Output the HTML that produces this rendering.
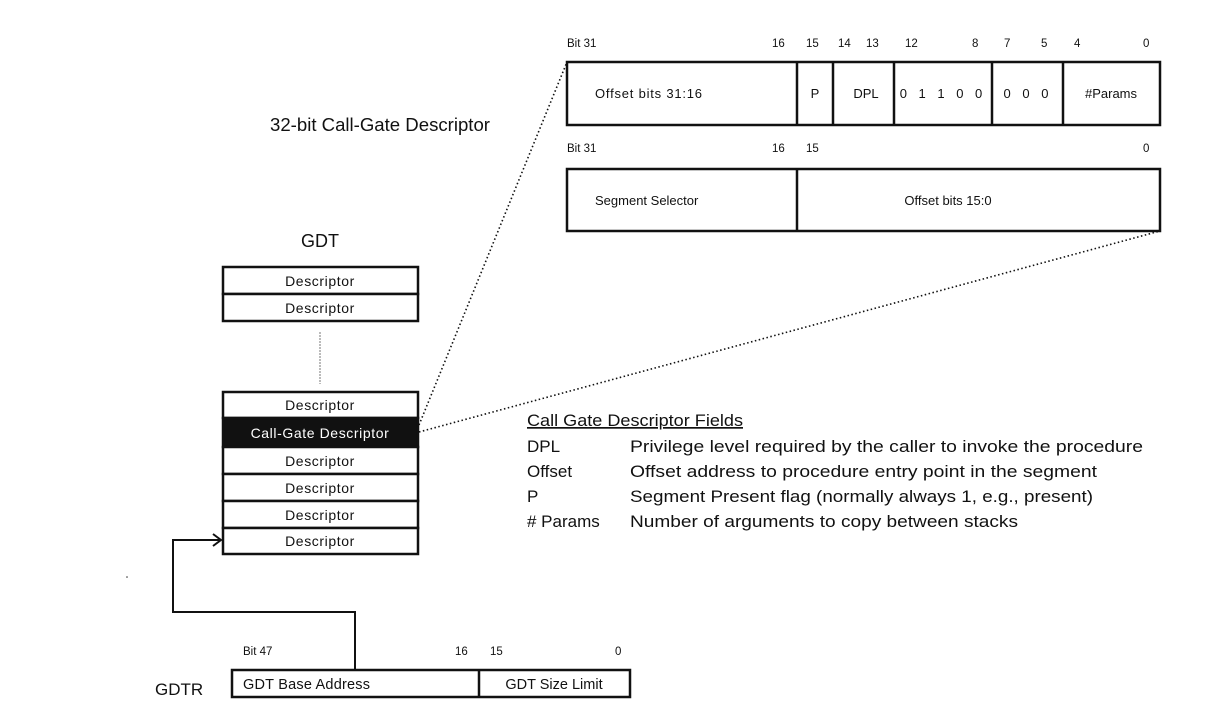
<!DOCTYPE html>
<html><head><meta charset="utf-8"><style>
html,body{margin:0;padding:0;background:#fff;}
svg{display:block;}
text{font-family:"Liberation Sans",sans-serif;fill:#111;}
</style></head><body>
<svg width="1215" height="710" viewBox="0 0 1215 710" xmlns="http://www.w3.org/2000/svg">
<g font-size="11.5">
<text x="567" y="47">Bit 31</text>
<text x="772" y="47">16</text>
<text x="806" y="47">15</text>
<text x="838" y="47">14</text>
<text x="866" y="47">13</text>
<text x="905" y="47">12</text>
<text x="972" y="47">8</text>
<text x="1004" y="47">7</text>
<text x="1041" y="47">5</text>
<text x="1074" y="47">4</text>
<text x="1143" y="47">0</text>
</g>
<rect x="567" y="62" width="593" height="63" fill="#fff" stroke="#111" stroke-width="2.5"/>
<g stroke="#111" stroke-width="2.5">
<line x1="797" y1="62" x2="797" y2="125"/>
<line x1="833" y1="62" x2="833" y2="125"/>
<line x1="894" y1="62" x2="894" y2="125"/>
<line x1="992" y1="62" x2="992" y2="125"/>
<line x1="1063" y1="62" x2="1063" y2="125"/>
</g>
<g font-size="13">
<text x="595" y="98" textLength="107" lengthAdjust="spacing">Offset bits 31:16</text>
<text x="815" y="98" text-anchor="middle">P</text>
<text x="866" y="98" text-anchor="middle">DPL</text>
<text x="943" y="98" text-anchor="middle" letter-spacing="4">0 1 1 0 0</text>
<text x="1028" y="98" text-anchor="middle" letter-spacing="4">0 0 0</text>
<text x="1111" y="98" text-anchor="middle">#Params</text>
</g>
<g font-size="11.5">
<text x="567" y="152">Bit 31</text>
<text x="772" y="152">16</text>
<text x="806" y="152">15</text>
<text x="1143" y="152">0</text>
</g>
<rect x="567" y="169" width="593" height="62" fill="#fff" stroke="#111" stroke-width="2.5"/>
<line x1="797" y1="169" x2="797" y2="231" stroke="#111" stroke-width="2.5"/>
<g font-size="13">
<text x="595" y="205">Segment Selector</text>
<text x="948" y="205" text-anchor="middle">Offset bits 15:0</text>
</g>
<text x="270" y="131" font-size="18" textLength="220" lengthAdjust="spacingAndGlyphs">32-bit Call-Gate Descriptor</text>
<text x="320" y="247" font-size="18" text-anchor="middle">GDT</text>
<g fill="#fff" stroke="#111" stroke-width="2.5">
<rect x="223" y="267" width="195" height="27"/>
<rect x="223" y="294" width="195" height="27"/>
<rect x="223" y="392" width="195" height="26"/>
<rect x="223" y="418" width="195" height="29" fill="#111"/>
<rect x="223" y="447" width="195" height="27"/>
<rect x="223" y="474" width="195" height="27"/>
<rect x="223" y="501" width="195" height="27"/>
<rect x="223" y="528" width="195" height="26"/>
</g>
<line x1="320" y1="332" x2="320" y2="384" stroke="#777" stroke-width="1" stroke-dasharray="2,1"/>
<g font-size="14" text-anchor="middle" letter-spacing="0.6">
<text x="320" y="286">Descriptor</text>
<text x="320" y="313">Descriptor</text>
<text x="320" y="410">Descriptor</text>
<text x="320" y="438" style="fill:#fff">Call-Gate Descriptor</text>
<text x="320" y="466">Descriptor</text>
<text x="320" y="493">Descriptor</text>
<text x="320" y="520">Descriptor</text>
<text x="320" y="546">Descriptor</text>
</g>
<g stroke="#111" stroke-width="1.6" stroke-dasharray="1.5,2.5" fill="none">
<line x1="419" y1="425" x2="567" y2="62"/>
<line x1="419" y1="432" x2="1160" y2="231"/>
</g>
<g stroke="#111" stroke-width="2" fill="none">
<polyline points="355,670 355,612 173,612 173,540 221,540"/>
<polyline points="213,534 221,540 213,546"/>
</g>
<circle cx="127" cy="577" r="0.8" fill="#333"/>
<g font-size="11.5">
<text x="243" y="655">Bit 47</text>
<text x="455" y="655">16</text>
<text x="490" y="655">15</text>
<text x="615" y="655">0</text>
</g>
<text x="155" y="695" font-size="17">GDTR</text>
<rect x="232" y="670" width="398" height="27" fill="#fff" stroke="#111" stroke-width="2.5"/>
<line x1="479" y1="670" x2="479" y2="697" stroke="#111" stroke-width="2.5"/>
<g font-size="14.5">
<text x="243" y="689" textLength="127" lengthAdjust="spacing">GDT Base Address</text>
<text x="554" y="689" text-anchor="middle">GDT Size Limit</text>
</g>
<g font-size="17">
<text x="527" y="426" text-decoration="underline" textLength="216" lengthAdjust="spacingAndGlyphs">Call Gate Descriptor Fields</text>
<text x="527" y="452">DPL</text>
<text x="630" y="452" textLength="513" lengthAdjust="spacingAndGlyphs">Privilege level required by the caller to invoke the procedure</text>
<text x="527" y="477">Offset</text>
<text x="630" y="477" textLength="467" lengthAdjust="spacingAndGlyphs">Offset address to procedure entry point in the segment</text>
<text x="527" y="502">P</text>
<text x="630" y="502" textLength="463" lengthAdjust="spacingAndGlyphs">Segment Present flag (normally always 1, e.g., present)</text>
<text x="527" y="527"># Params</text>
<text x="630" y="527" textLength="388" lengthAdjust="spacingAndGlyphs">Number of arguments to copy between stacks</text>
</g>
</svg>
</body></html>
